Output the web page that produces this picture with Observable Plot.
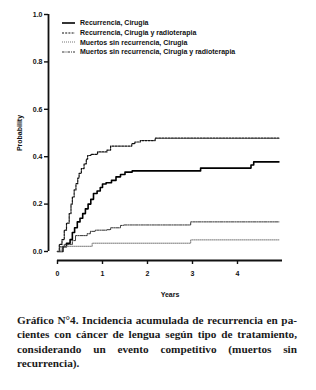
<!DOCTYPE html>
<html>
<head>
<meta charset="utf-8">
<script src="https://cdn.jsdelivr.net/npm/d3@7"></script>
<script src="https://cdn.jsdelivr.net/npm/@observablehq/plot@0.6"></script>
<style>
  html, body { margin: 0; padding: 0; background: #fff; }
  #wrap { position: relative; width: 316px; }
  .legend { position: absolute; left: 62px; top: 18px; font-family: "Liberation Sans", Arial, sans-serif; font-weight: bold; font-size: 7px; color: #111; }
  .legend .row { display: flex; align-items: center; height: 9.7px; }
  .legend svg { margin-right: 5px; }
  .caption { margin: 8px 0 0 17px; width: 280px; font-family: "Liberation Serif", "Times New Roman", "DejaVu Serif", serif; font-weight: bold; font-size: 11.5px; line-height: 14.3px; color: #1a1a1a; }
  .caption div { text-align: justify; text-align-last: justify; white-space: nowrap; }
  .caption div.last { text-align-last: left; }
  .measure { position: absolute; visibility: hidden; white-space: nowrap; font-family: "Liberation Serif", "Times New Roman", "DejaVu Serif", serif; font-weight: bold; }
</style>
</head>
<body>
<div id="wrap"></div>
<script>
// Data (time in years, cumulative incidence)
const seriesNames = [
  "Recurrencia, Cirugia",
  "Recurrencia, Cirugia y radioterapia",
  "Muertos sin recurrencia, Cirugia",
  "Muertos sin recurrencia, Cirugia y radioterapia"
];
const recCirT = [0, 0.12, 0.2, 0.28, 0.33, 0.38, 0.44, 0.5, 0.56, 0.62, 0.68, 0.74, 0.8, 0.88, 0.95, 1.0, 1.08, 1.2, 1.3, 1.4, 1.5, 1.66, 3.18, 4.3, 4.36, 4.92];
const recCirP = [0, 0.02, 0.035, 0.05, 0.08, 0.1, 0.125, 0.14, 0.16, 0.18, 0.2, 0.22, 0.245, 0.255, 0.27, 0.285, 0.29, 0.3, 0.315, 0.325, 0.335, 0.34, 0.352, 0.365, 0.378, 0.378];
const recRadT = [0, 0.04, 0.1, 0.15, 0.2, 0.26, 0.3, 0.33, 0.37, 0.41, 0.45, 0.48, 0.53, 0.59, 0.64, 0.67, 0.74, 0.89, 1.1, 1.18, 1.65, 1.72, 1.84, 2.17, 4.92];
const recRadP = [0, 0.03, 0.05, 0.09, 0.12, 0.16, 0.2, 0.23, 0.26, 0.286, 0.31, 0.33, 0.35, 0.37, 0.39, 0.405, 0.41, 0.42, 0.428, 0.445, 0.455, 0.462, 0.468, 0.478, 0.478];
const mueCirT = [0, 0.1, 0.77, 2.96, 4.92];
const mueCirP = [0, 0.022, 0.035, 0.049, 0.049];
const mueRadT = [0, 0.05, 0.15, 0.33, 0.4, 0.66, 0.73, 0.84, 1.1, 1.18, 1.4, 1.47, 2.96, 4.92];
const mueRadP = [0, 0.02, 0.03, 0.046, 0.067, 0.075, 0.085, 0.09, 0.092, 0.1, 0.11, 0.112, 0.125, 0.125];
const xTicks = [0, 1, 2, 3, 4];
const yTicks = [0, 0.2, 0.4, 0.6, 0.8, 1.0];
const captionLines = [
  "Gráfico N°4. Incidencia acumulada de recurrencia en pa-",
  "cientes con cáncer de lengua según tipo de tratamiento,",
  "considerando un evento competitivo (muertos sin",
  "recurrencia)."
];

const toRows = (T, P) => T.map((t, i) => ({t, p: P[i]}));
const styles = [
  {stroke: "#000", strokeWidth: 1.6, dash: null},
  {stroke: "#111", strokeWidth: 1.2, dash: "2,1.2"},
  {stroke: "#777", strokeWidth: 1, dash: "1,1"},
  {stroke: "#333", strokeWidth: 1, dash: "2.5,1,1,1"}
];
const data = [toRows(recCirT, recCirP), toRows(recRadT, recRadP), toRows(mueCirT, mueCirP), toRows(mueRadT, mueRadP)];

const font = "'Liberation Sans', Arial, sans-serif";
const chart = Plot.plot({
  width: 316,
  height: 305,
  marginLeft: 57,
  marginRight: 34,
  marginTop: 14,
  marginBottom: 54,
  style: {fontFamily: font, fontSize: "7px", fontWeight: "bold", color: "#111", background: "#fff"},
  x: {domain: [0, 5]},
  y: {domain: [0, 1]},
  marks: [
    Plot.ruleX([0], {y1: 0, y2: 1, dx: -9, stroke: "#111", strokeWidth: 1.8}),
    Plot.ruleY([0], {x1: 0, x2: 5, dy: 9, stroke: "#111", strokeWidth: 1.8}),
    Plot.axisY({ticks: yTicks, tickFormat: d3.format(".1f"), tickSize: 4, tickPadding: 2, dx: -9, strokeWidth: 1.4,
      label: "Probability", labelAnchor: "center", labelArrow: "none", labelOffset: 40}),
    Plot.axisX({ticks: xTicks, tickFormat: d3.format("d"), tickSize: 4, tickPadding: 7, dy: 9, strokeWidth: 1.4,
      label: "Years", labelAnchor: "center", labelArrow: "none", labelOffset: 45}),
    ...data.map((rows, i) => Plot.line(rows, {
      x: "t", y: "p", curve: "step-after",
      stroke: styles[i].stroke, strokeWidth: styles[i].strokeWidth,
      strokeDasharray: styles[i].dash
    }))
  ]
});

const wrap = document.getElementById("wrap");
wrap.appendChild(chart);

// Legend
const legend = document.createElement("div");
legend.className = "legend";
seriesNames.forEach((name, i) => {
  const row = document.createElement("div");
  row.className = "row";
  const s = styles[i];
  row.innerHTML = `<svg width="13" height="4"><line x1="0" x2="13" y1="2" y2="2" stroke="${s.stroke}" stroke-width="${s.strokeWidth}" ${s.dash ? `stroke-dasharray="${s.dash}"` : ""}/></svg><span>${name}</span>`;
  legend.appendChild(row);
});
wrap.appendChild(legend);

// Caption: fit font size so the widest line naturally fills the 280px width
const meas = document.createElement("span");
meas.className = "measure";
document.body.appendChild(meas);
let fs = 13;
for (; fs > 9; fs -= 0.25) {
  meas.style.fontSize = fs + "px";
  const w = Math.max(...captionLines.slice(0, 2).map(l => { meas.textContent = l; return meas.getBoundingClientRect().width; }));
  if (w <= 279) break;
}
meas.remove();
const cap = document.createElement("div");
cap.className = "caption";
cap.style.fontSize = fs + "px";
captionLines.forEach((line, i) => {
  const d = document.createElement("div");
  d.textContent = line;
  if (i === captionLines.length - 1) d.className = "last";
  cap.appendChild(d);
});
wrap.appendChild(cap);
</script>
</body>
</html>
